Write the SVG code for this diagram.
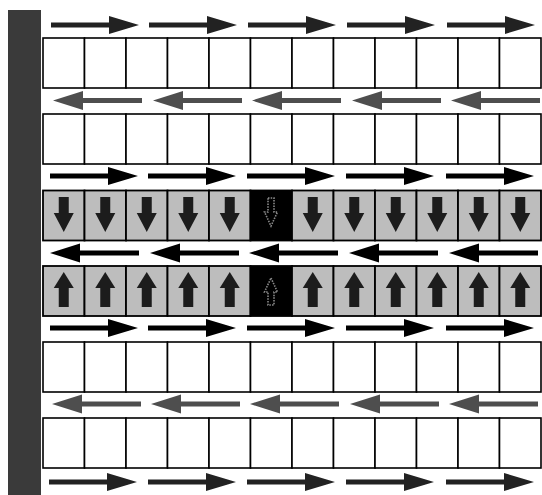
<svg xmlns="http://www.w3.org/2000/svg" xmlns:xlink="http://www.w3.org/1999/xlink" width="542" height="495" viewBox="0 0 542 495">
<style>
.w{fill:#fff;stroke:#000;stroke-width:1.6}
.g{fill:#bdbdbd;stroke:#000;stroke-width:1.8}
.b{fill:#000;stroke:#000;stroke-width:1.8}
.ca{fill:#1c1c1c}
.fa{fill:none;stroke:#8a8a8a;stroke-width:1.6;stroke-dasharray:1.5 1.2}
.dk{fill:#222}
.md{fill:#4e4e4e}
.bk{fill:#000}
</style>
<defs>
<path id="ra" d="M0,-2.6 H58 V-9 L88,0 L58,9 V2.6 H0 Z"/>
<path id="la" d="M0,0 L30,-9.5 V-2.6 H89 V2.6 H30 V9.5 Z"/>
<path id="da" d="M-5,7 H5 V23 H10 L0,42 L-10,23 H-5 Z"/>
<path id="ua" d="M0,6 L10,22 H5 V41 H-5 V22 H-10 Z"/>
</defs>
<rect id="wall" x="8" y="10" width="33" height="485" fill="#3a3a3a"/>
<g id="row1">
<rect class="w" x="43" y="38" width="41.5" height="50"/><rect class="w" x="84.5" y="38" width="41.5" height="50"/><rect class="w" x="126" y="38" width="41.5" height="50"/><rect class="w" x="167.5" y="38" width="41.5" height="50"/><rect class="w" x="209" y="38" width="41.5" height="50"/><rect class="w" x="250.5" y="38" width="41.5" height="50"/><rect class="w" x="292" y="38" width="41.5" height="50"/><rect class="w" x="333.5" y="38" width="41.5" height="50"/><rect class="w" x="375" y="38" width="41.5" height="50"/><rect class="w" x="416.5" y="38" width="41.5" height="50"/><rect class="w" x="458" y="38" width="41.5" height="50"/><rect class="w" x="499.5" y="38" width="41.5" height="50"/>
</g>
<g id="row2">
<rect class="w" x="43" y="114" width="41.5" height="50"/><rect class="w" x="84.5" y="114" width="41.5" height="50"/><rect class="w" x="126" y="114" width="41.5" height="50"/><rect class="w" x="167.5" y="114" width="41.5" height="50"/><rect class="w" x="209" y="114" width="41.5" height="50"/><rect class="w" x="250.5" y="114" width="41.5" height="50"/><rect class="w" x="292" y="114" width="41.5" height="50"/><rect class="w" x="333.5" y="114" width="41.5" height="50"/><rect class="w" x="375" y="114" width="41.5" height="50"/><rect class="w" x="416.5" y="114" width="41.5" height="50"/><rect class="w" x="458" y="114" width="41.5" height="50"/><rect class="w" x="499.5" y="114" width="41.5" height="50"/>
</g>
<g id="row3">
<rect class="g" x="43" y="190.5" width="41.5" height="50"/><rect class="g" x="84.5" y="190.5" width="41.5" height="50"/><rect class="g" x="126" y="190.5" width="41.5" height="50"/><rect class="g" x="167.5" y="190.5" width="41.5" height="50"/><rect class="g" x="209" y="190.5" width="41.5" height="50"/><rect class="b" x="250.5" y="190.5" width="41.5" height="50"/><rect class="g" x="292" y="190.5" width="41.5" height="50"/><rect class="g" x="333.5" y="190.5" width="41.5" height="50"/><rect class="g" x="375" y="190.5" width="41.5" height="50"/><rect class="g" x="416.5" y="190.5" width="41.5" height="50"/><rect class="g" x="458" y="190.5" width="41.5" height="50"/><rect class="g" x="499.5" y="190.5" width="41.5" height="50"/>
<g class="ca">
<use xlink:href="#da" x="63.75" y="190"/><use xlink:href="#da" x="105.25" y="190"/><use xlink:href="#da" x="146.75" y="190"/><use xlink:href="#da" x="188.25" y="190"/><use xlink:href="#da" x="229.75" y="190"/><use xlink:href="#da" x="312.75" y="190"/><use xlink:href="#da" x="354.25" y="190"/><use xlink:href="#da" x="395.75" y="190"/><use xlink:href="#da" x="437.25" y="190"/><use xlink:href="#da" x="478.75" y="190"/><use xlink:href="#da" x="520.25" y="190"/>
</g>
<path class="fa" d="M268,198 H274 V212 H277.5 L271,226 L264.5,212 H268 Z"/>
</g>
<g id="row4">
<rect class="g" x="43" y="266" width="41.5" height="50"/><rect class="g" x="84.5" y="266" width="41.5" height="50"/><rect class="g" x="126" y="266" width="41.5" height="50"/><rect class="g" x="167.5" y="266" width="41.5" height="50"/><rect class="g" x="209" y="266" width="41.5" height="50"/><rect class="b" x="250.5" y="266" width="41.5" height="50"/><rect class="g" x="292" y="266" width="41.5" height="50"/><rect class="g" x="333.5" y="266" width="41.5" height="50"/><rect class="g" x="375" y="266" width="41.5" height="50"/><rect class="g" x="416.5" y="266" width="41.5" height="50"/><rect class="g" x="458" y="266" width="41.5" height="50"/><rect class="g" x="499.5" y="266" width="41.5" height="50"/>
<g class="ca">
<use xlink:href="#ua" x="63.75" y="266"/><use xlink:href="#ua" x="105.25" y="266"/><use xlink:href="#ua" x="146.75" y="266"/><use xlink:href="#ua" x="188.25" y="266"/><use xlink:href="#ua" x="229.75" y="266"/><use xlink:href="#ua" x="312.75" y="266"/><use xlink:href="#ua" x="354.25" y="266"/><use xlink:href="#ua" x="395.75" y="266"/><use xlink:href="#ua" x="437.25" y="266"/><use xlink:href="#ua" x="478.75" y="266"/><use xlink:href="#ua" x="520.25" y="266"/>
</g>
<path class="fa" d="M271,278 L277.5,292 H274 V305 H268 V292 H264.5 Z"/>
</g>
<g id="row5">
<rect class="w" x="43" y="342" width="41.5" height="50"/><rect class="w" x="84.5" y="342" width="41.5" height="50"/><rect class="w" x="126" y="342" width="41.5" height="50"/><rect class="w" x="167.5" y="342" width="41.5" height="50"/><rect class="w" x="209" y="342" width="41.5" height="50"/><rect class="w" x="250.5" y="342" width="41.5" height="50"/><rect class="w" x="292" y="342" width="41.5" height="50"/><rect class="w" x="333.5" y="342" width="41.5" height="50"/><rect class="w" x="375" y="342" width="41.5" height="50"/><rect class="w" x="416.5" y="342" width="41.5" height="50"/><rect class="w" x="458" y="342" width="41.5" height="50"/><rect class="w" x="499.5" y="342" width="41.5" height="50"/>
</g>
<g id="row6">
<rect class="w" x="43" y="418" width="41.5" height="50"/><rect class="w" x="84.5" y="418" width="41.5" height="50"/><rect class="w" x="126" y="418" width="41.5" height="50"/><rect class="w" x="167.5" y="418" width="41.5" height="50"/><rect class="w" x="209" y="418" width="41.5" height="50"/><rect class="w" x="250.5" y="418" width="41.5" height="50"/><rect class="w" x="292" y="418" width="41.5" height="50"/><rect class="w" x="333.5" y="418" width="41.5" height="50"/><rect class="w" x="375" y="418" width="41.5" height="50"/><rect class="w" x="416.5" y="418" width="41.5" height="50"/><rect class="w" x="458" y="418" width="41.5" height="50"/><rect class="w" x="499.5" y="418" width="41.5" height="50"/>
</g>
<g id="connectors">
<g class="dk">
<use xlink:href="#ra" x="51" y="25"/><use xlink:href="#ra" x="149" y="25"/><use xlink:href="#ra" x="248" y="25"/><use xlink:href="#ra" x="347" y="25"/><use xlink:href="#ra" x="447" y="25"/>
</g>
<g class="md">
<use xlink:href="#la" x="53" y="100.5"/><use xlink:href="#la" x="153" y="100.5"/><use xlink:href="#la" x="252" y="100.5"/><use xlink:href="#la" x="352" y="100.5"/><use xlink:href="#la" x="451" y="100.5"/>
</g>
<g class="bk">
<use xlink:href="#ra" x="50" y="176"/><use xlink:href="#ra" x="148" y="176"/><use xlink:href="#ra" x="247" y="176"/><use xlink:href="#ra" x="346" y="176"/><use xlink:href="#ra" x="446" y="176"/>
<use xlink:href="#la" x="50" y="253"/><use xlink:href="#la" x="150" y="253"/><use xlink:href="#la" x="249" y="253"/><use xlink:href="#la" x="349" y="253"/><use xlink:href="#la" x="449" y="253"/>
<use xlink:href="#ra" x="50" y="328"/><use xlink:href="#ra" x="148" y="328"/><use xlink:href="#ra" x="247" y="328"/><use xlink:href="#ra" x="346" y="328"/><use xlink:href="#ra" x="446" y="328"/>
</g>
<g class="md">
<use xlink:href="#la" x="52" y="404"/><use xlink:href="#la" x="151" y="404"/><use xlink:href="#la" x="250" y="404"/><use xlink:href="#la" x="350" y="404"/><use xlink:href="#la" x="449" y="404"/>
</g>
<g class="dk">
<use xlink:href="#ra" x="49" y="482"/><use xlink:href="#ra" x="148" y="482"/><use xlink:href="#ra" x="247" y="482"/><use xlink:href="#ra" x="346" y="482"/><use xlink:href="#ra" x="446" y="482"/>
</g>
</g>
</svg>
